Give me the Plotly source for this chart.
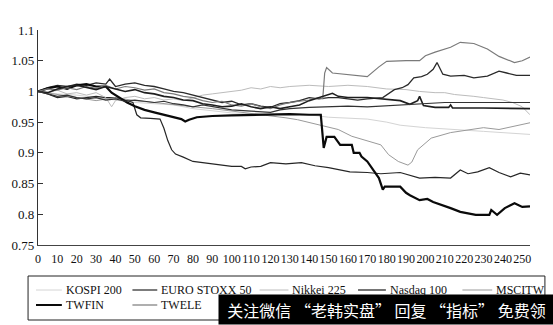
import plotly.graph_objects as go

# ---- data: (day, relative value) ----
kospi200 = [(0,1.0),(10,0.996),(20,0.994),(30,0.99),(40,0.985),(50,0.982),(60,0.98),(70,0.978),(80,0.972),(90,0.968),(100,0.965),(110,0.964),(120,0.962),(130,0.963),(140,0.962),(150,0.958),(160,0.956),(170,0.955),(180,0.95),(187,0.945),(200,0.941),(213,0.938),(230,0.935),(254,0.93)]
eurostoxx50 = [(0,1.0),(5,0.996),(10,0.99),(15,0.992),(20,0.988),(25,0.99),(30,0.992),(35,0.99),(40,0.99),(45,0.986),(49,0.982),(51,0.962),(53,0.957),(58,0.956),(63,0.955),(65,0.94),(67,0.92),(69,0.905),(71,0.898),(75,0.893),(80,0.886),(85,0.884),(90,0.882),(95,0.88),(100,0.878),(105,0.878),(107,0.874),(110,0.877),(115,0.878),(120,0.884),(128,0.882),(136,0.884),(143,0.879),(150,0.876),(161,0.869),(170,0.868),(177,0.866),(187,0.868),(192,0.863),(197,0.859),(205,0.86),(213,0.859),(218,0.872),(222,0.866),(227,0.869),(233,0.876),(238,0.868),(244,0.861),(249,0.867),(254,0.864)]
nikkei225 = [(0,1.0),(5,0.998),(10,1.002),(15,0.996),(20,0.998),(25,0.994),(30,0.998),(35,0.99),(38,0.975),(40,0.985),(45,0.99),(50,0.992),(55,0.988),(60,0.99),(65,0.986),(70,0.988),(75,0.985),(80,0.99),(85,0.994),(90,0.996),(95,0.998),(100,1.0),(105,1.002),(110,1.006),(115,1.004),(120,1.008),(125,1.006),(130,1.008),(140,1.01),(150,1.008),(160,1.01),(170,1.008),(180,1.004),(190,1.003),(197,1.0),(205,0.998),(210,0.998),(215,0.995),(220,0.994),(225,0.992),(230,0.99),(235,0.988),(240,0.986),(245,0.982),(250,0.975),(254,0.962)]
nasdaq100 = [(0,1.0),(5,1.006),(10,1.01),(15,1.008),(20,1.012),(25,1.01),(30,1.014),(35,1.012),(37,1.02),(40,1.008),(45,1.012),(50,1.014),(55,1.01),(60,1.008),(65,1.004),(70,1.0),(75,0.998),(80,0.994),(85,0.99),(90,0.985),(95,0.982),(100,0.984),(105,0.978),(110,0.98),(115,0.976),(120,0.974),(125,0.98),(130,0.982),(135,0.985),(140,0.99),(145,0.988),(150,0.99),(155,0.99),(160,0.988),(165,0.986),(170,0.988),(175,0.99),(178,0.99),(184,1.003),(188,1.006),(191,1.011),(194,1.022),(198,1.024),(201,1.028),(204,1.036),(206,1.047),(209,1.028),(213,1.025),(220,1.026),(225,1.022),(232,1.025),(238,1.033),(242,1.03),(247,1.026),(254,1.026)]
msci_tw = [(0,1.0),(10,0.995),(20,0.99),(30,0.985),(40,0.99),(50,0.985),(60,0.982),(70,0.978),(80,0.975),(90,0.972),(100,0.968),(110,0.965),(120,0.96),(128,0.957),(134,0.954),(145,0.945),(155,0.938),(162,0.927),(172,0.918),(177,0.913),(181,0.897),(186,0.886),(191,0.88),(193,0.885),(196,0.905),(203,0.924),(213,0.933),(222,0.937),(230,0.941),(238,0.938),(246,0.944),(254,0.949)]
twfin = [(0,1.0),(5,1.005),(10,1.008),(15,1.004),(20,1.01),(25,1.012),(30,1.008),(35,1.008),(38,0.998),(42,0.99),(46,0.982),(50,0.976),(55,0.97),(60,0.966),(65,0.962),(70,0.958),(74,0.955),(76,0.951),(78,0.954),(82,0.958),(90,0.96),(100,0.961),(110,0.962),(120,0.962),(130,0.963),(140,0.962),(146,0.962),(147.5,0.908),(149,0.926),(153,0.926),(156,0.913),(162,0.913),(163,0.9),(166,0.9),(167,0.894),(170,0.886),(173,0.872),(176,0.859),(178,0.84),(179,0.845),(187,0.845),(190,0.835),(192,0.831),(197,0.823),(201,0.825),(204,0.82),(213,0.81),(218,0.804),(226,0.799),(233,0.799),(234,0.807),(237,0.799),(241,0.81),(246,0.818),(250,0.812),(254,0.813)]
twele = [(0,1.0),(5,1.004),(10,1.002),(15,1.006),(20,1.003),(25,1.008),(30,1.005),(35,1.01),(40,1.004),(45,1.008),(50,1.006),(55,1.002),(60,1.004),(65,0.998),(70,0.996),(75,0.992),(80,0.99),(85,0.985),(90,0.982),(95,0.984),(100,0.978),(105,0.976),(110,0.98),(115,0.975),(120,0.972),(125,0.978),(130,0.982),(135,0.984),(140,0.986),(145,0.99),(147,0.988),(148,1.03),(149,1.039),(152,1.03),(160,1.027),(170,1.024),(176,1.04),(180,1.049),(190,1.05),(197,1.05),(200,1.058),(205,1.064),(213,1.072),(218,1.08),(225,1.078),(232,1.069),(238,1.057),(246,1.047),(250,1.05),(254,1.056)]
# two further series whose legend entries are hidden under the overlay in the picture
series_8 = [(0,1.0),(5,0.998),(10,1.004),(15,1.008),(20,1.01),(25,1.006),(30,1.003),(35,1.008),(40,1.004),(45,1.0),(50,1.003),(55,0.998),(60,0.996),(65,0.992),(70,0.99),(75,0.986),(80,0.985),(85,0.98),(90,0.978),(95,0.975),(100,0.976),(105,0.98),(110,0.975),(115,0.972),(120,0.975),(125,0.972),(130,0.975),(135,0.978),(140,0.985),(145,0.99),(150,0.994),(152,0.997),(155,0.992),(160,0.99),(170,0.99),(178,0.988),(187,0.985),(192,0.979),(196,0.985),(197,0.992),(199,0.977),(205,0.974),(212,0.974),(213,0.978),(214,0.973),(230,0.973),(254,0.972)]
series_9 = [(0,1.0),(5,0.996),(10,0.992),(15,0.994),(20,0.99),(25,0.988),(30,0.99),(35,0.986),(40,0.988),(45,0.984),(50,0.986),(55,0.984),(60,0.982),(65,0.984),(70,0.98),(75,0.978),(80,0.975),(85,0.978),(90,0.975),(95,0.972),(100,0.97),(110,0.968),(120,0.966),(125,0.97),(130,0.972),(140,0.974),(150,0.975),(160,0.976),(170,0.975),(180,0.977),(190,0.978),(200,0.981),(210,0.982),(230,0.982),(254,0.982)]

x_ticks = list(range(0, 251, 10))
y_ticks = [0.75, 0.8, 0.85, 0.9, 0.95, 1.0, 1.05, 1.1]
y_labels = ["0.75", "0.8", "0.85", "0.9", "0.95", "1", "1.05", "1.1"]
overlay_text = "关注微信 “老韩实盘” 回复 “指标” 免费领"

SERIF = "Liberation Serif"
W, H = 553, 325
ML, MR, MT, MB = 35, 23, 30, 80
PW, PH = W - ML - MR, H - MT - MB

def px(xp):  # page pixel -> paper x
    return (xp - ML) / PW

def py(yp):  # page pixel -> paper y
    return (H - MB - yp) / PH

fig = go.Figure()

# name, data, colour, width, legend (row, line start px, text start px)
series = [
    ("KOSPI 200", kospi200, "#d4d4d4", 1.0, (0, 33, 61)),
    ("EURO STOXX 50", eurostoxx50, "#262626", 1.2, (0, 130, 157)),
    ("Nikkei 225", nikkei225, "#bcbcbc", 1.0, (0, 258, 289)),
    ("Nasdaq 100", nasdaq100, "#2a2a2a", 1.3, (0, 357, 387)),
    ("MSCITW", msci_tw, "#9a9a9a", 1.0, (0, 462, 494)),
    ("TWFIN", twfin, "#0a0a0a", 2.2, (1, 33, 61)),
    ("TWELE", twele, "#7a7a7a", 1.2, (1, 130, 157)),
    ("series 8", series_8, "#1e1e1e", 1.6, None),
    ("series 9", series_9, "#333333", 1.2, None),
]

row_y = [290, 305]
for name, data, color, width, leg in series:
    fig.add_trace(go.Scatter(
        x=[p[0] for p in data], y=[p[1] for p in data], mode="lines", name=name,
        line=dict(color=color, width=width), showlegend=False))
    if leg is not None:
        row, lx, tx = leg
        yy = py(row_y[row])
        fig.add_shape(type="line", xref="paper", yref="paper",
                      x0=px(lx), x1=px(tx - 2), y0=yy, y1=yy,
                      line=dict(color=color, width=min(width, 2.0)))
        fig.add_annotation(xref="paper", yref="paper", x=px(tx), y=yy,
                           xanchor="left", yanchor="middle", showarrow=False,
                           text=name, font=dict(family=SERIF, size=12, color="#111"))

# legend frame
fig.add_shape(type="rect", xref="paper", yref="paper",
              x0=px(25), x1=px(545), y0=py(320), y1=py(276),
              line=dict(color="#222", width=1), fillcolor="rgba(0,0,0,0)")

fig.update_layout(
    width=W, height=H,
    margin=dict(l=ML, r=MR, t=MT, b=MB),
    paper_bgcolor="white", plot_bgcolor="white",
    font=dict(family=SERIF, size=13, color="#111"),
    showlegend=False,
    xaxis=dict(range=[0, 254], tickmode="array", tickvals=x_ticks, ticks="",
               tickangle=0, showline=True, linecolor="#444", linewidth=1.2,
               showgrid=False, zeroline=False, tickfont=dict(size=12),
               ticklabelstandoff=2),
    yaxis=dict(range=[0.75, 1.1], tickmode="array", tickvals=y_ticks, ticktext=y_labels,
               ticks="inside", ticklen=5, tickcolor="#333", showline=True,
               linecolor="#333", linewidth=1.2, showgrid=False, zeroline=False,
               tickfont=dict(size=13)),
)

fig.add_annotation(
    xref="paper", yref="paper", x=px(216), y=py(325), xanchor="left", yanchor="bottom",
    width=335, height=29, bgcolor="black", borderpad=0, showarrow=False, align="center",
    valign="middle", text=overlay_text,
    font=dict(family="Noto Sans CJK SC", size=16, color="white"))

fig.write_html("out.html")
